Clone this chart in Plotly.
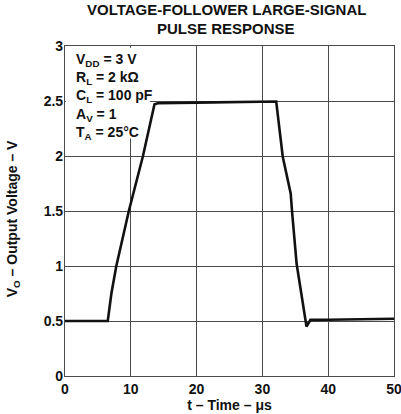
import plotly.graph_objects as go

# time in microseconds, output voltage in volts
time_us = [0, 6.5, 7.05, 7.8, 9.7, 11.85, 13.6, 14.1, 20, 28, 32.1,
           33.1, 34.3, 34.5, 35.2, 36.7, 37.3, 40, 50]
vout = [0.5, 0.5, 0.75, 1.0, 1.5, 2.0, 2.47, 2.48, 2.485, 2.49, 2.495,
        1.99, 1.66, 1.5, 1.02, 0.45, 0.51, 0.512, 0.52]

x_ticks = [0, 10, 20, 30, 40, 50]
y_ticks = [0, 0.5, 1, 1.5, 2, 2.5, 3]
y_labels = ["0", "0.5", "1", "1.5", "2", "2.5", "3"]

title_lines = ["VOLTAGE-FOLLOWER LARGE-SIGNAL", "PULSE RESPONSE"]

conditions = [
    "V<sub>DD</sub> = 3 V",
    "R<sub>L</sub> = 2 k\u03a9",
    "C<sub>L</sub> = 100 pF",
    "A<sub>V</sub> = 1",
    "T<sub>A</sub> = 25\u00b0C",
]

FONT = "Liberation Sans, Arial, sans-serif"
GRID = "#4a4a4a"
INK = "#111111"

fig = go.Figure()

fig.add_trace(go.Scatter(
    x=time_us, y=vout, mode="lines",
    line=dict(color=INK, width=2.6),
    showlegend=False, hoverinfo="skip",
))

# white box behind the test conditions hides the grid there
fig.add_shape(type="rect", xref="x", yref="y", x0=0.12, x1=12.9, y0=2.16, y1=2.985,
              fillcolor="white", line=dict(width=0), layer="between")

fig.add_annotation(
    xref="paper", yref="paper", x=0.027, y=0.99, xanchor="left", yanchor="top",
    text="<br>".join(conditions), showarrow=False, align="left",
    font=dict(family=FONT, size=14, color=INK, weight="bold"),
)

# two-line title, placed line by line
for i, line in enumerate(title_lines):
    fig.add_annotation(
        xref="paper", yref="paper", x=0.49, y=1 + (37 - 19 * i) / 330,
        xanchor="center", yanchor="middle", text=line, showarrow=False,
        font=dict(family=FONT, size=15, color=INK, weight="bold"),
    )

# y-axis title as a rotated annotation so it sits near the left edge
fig.add_annotation(
    xref="paper", yref="paper", x=-0.158, y=0.475, xanchor="center", yanchor="middle",
    text="V<sub>O</sub> \u2013 Output Voltage \u2013 V", textangle=-90, showarrow=False,
    font=dict(family=FONT, size=14, color=INK, weight="bold"),
)

fig.update_layout(
    width=401, height=414,
    margin=dict(l=65, r=7, t=46, b=38),
    paper_bgcolor="white", plot_bgcolor="white",
    font=dict(family=FONT, color=INK),
)

fig.update_xaxes(
    range=[0, 50], tickvals=x_ticks, ticks="", automargin=False,
    ticklabeloverflow="allow",
    showgrid=True, gridcolor=GRID, gridwidth=1,
    showline=True, linecolor=GRID, linewidth=1.2, mirror=True, zeroline=False,
    tickfont=dict(family=FONT, size=14, color=INK, weight="bold"),
    title=dict(text="t \u2013 Time \u2013 \u03bcs", standoff=4,
               font=dict(family=FONT, size=14, color=INK, weight="bold")),
)
fig.update_yaxes(
    range=[0, 3], tickvals=y_ticks, ticktext=y_labels, ticks="", automargin=False,
    ticklabelstandoff=-2,
    showgrid=True, gridcolor=GRID, gridwidth=1,
    showline=True, linecolor=GRID, linewidth=1.2, mirror=True, zeroline=False,
    tickfont=dict(family=FONT, size=14, color=INK, weight="bold"),
)

# the page's default body margin would push the figure 8px off the window
fig.write_html("out.html", config={"displayModeBar": False},
               post_script="document.body.style.margin='0';document.body.style.overflow='hidden';")
